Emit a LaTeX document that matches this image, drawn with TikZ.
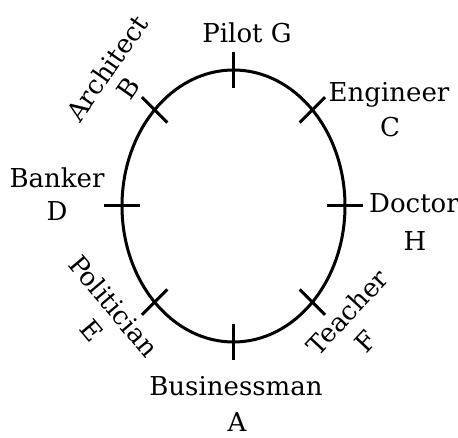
\documentclass[tikz,border=0pt]{standalone}
\usepackage{fontspec}
\setmainfont{DejaVu Serif}
\usetikzlibrary{calc}
\begin{document}
\begin{tikzpicture}[x=1pt,y=1pt,
  lbl/.style={font=\fontsize{26}{30}\selectfont, inner sep=0pt},
  ring/.style={line width=3pt},
  tickmark/.style={line width=3pt}]
\useasboundingbox (0,0) rectangle (458,437);
\coordinate (O) at (233.5,231);
\draw[ring] (O) ellipse [x radius=111.5, y radius=136];
\foreach \n/\a in {A/270,B/135,C/45,D/180,E/225,F/315,G/90,H/0}{
  \coordinate (p\n) at ($(O)+({111.5*cos(\a)},{136*sin(\a)})$);
  \draw[tickmark] ($(p\n)+(\a:18)$) -- ($(p\n)+(\a+180:18)$);
}
\node[lbl, anchor=base] (g) at (247,394) {Pilot G};
\node[lbl, anchor=base] (c1) at (389,335) {Engineer};
\node[lbl, anchor=base] (c2) at (390,300) {C};
\node[lbl, anchor=base] (h1) at (414,224) {Doctor};
\node[lbl, anchor=base] (h2) at (415,186) {H};
\node[lbl, anchor=base] (d1) at (57,249) {Banker};
\node[lbl, anchor=base] (d2) at (57,216) {D};
\node[lbl, anchor=base] (a1) at (236,42) {Businessman};
\node[lbl, anchor=base] (a2) at (237,6) {A};
\node[lbl, rotate=55] (b1) at (107,369) {Architect};
\node[lbl, rotate=55] (b2) at (128,349) {B};
\node[lbl, rotate=-50] (e1) at (114,131) {Politician};
\node[lbl, rotate=-50] (e2) at (92,106) {E};
\node[lbl, rotate=47] (f1) at (347,125) {Teacher};
\node[lbl, rotate=47] (f2) at (366,96) {F};
\end{tikzpicture}
\end{document}
